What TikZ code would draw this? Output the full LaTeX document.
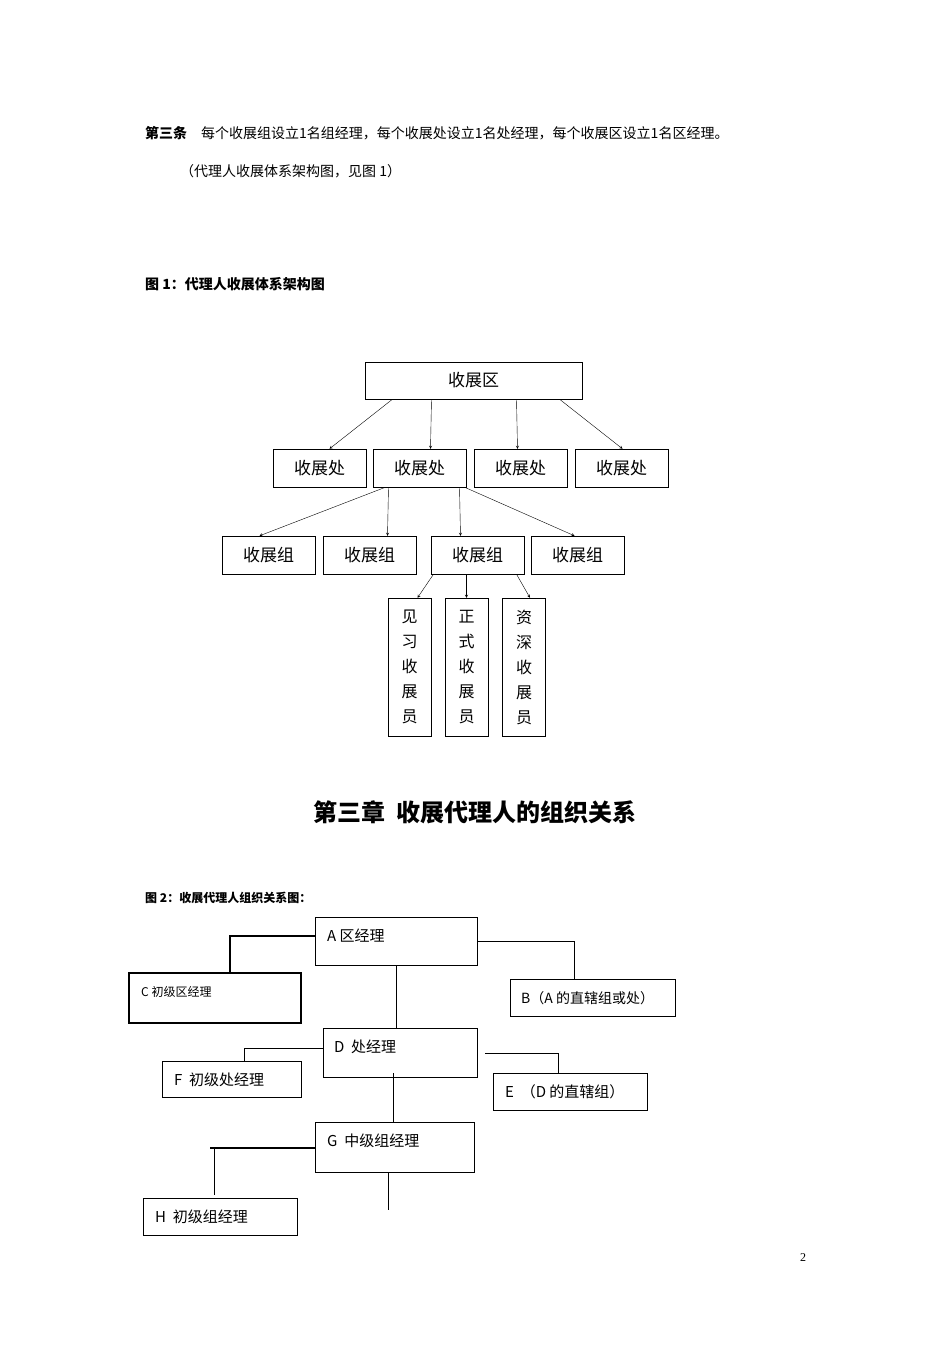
\documentclass[tikz,border=0pt]{standalone}
\usepackage{fontspec}
\setmainfont{Liberation Serif}
\newfontfamily\cjk{Noto Sans CJK SC}
\usetikzlibrary{positioning}
\tikzset{
    box/.style={ draw, thin, inner sep=0pt, font=\cjk\fontsize{17}{20}\selectfont },
    tall/.style={ box, minimum width=43pt, minimum height=138pt, align=center,
                  font=\cjk\fontsize{16}{25}\selectfont },
    sbox/.style={ draw, thin, inner sep=0pt },
    lbl/.style={ anchor=west, inner sep=0pt, font=\cjk\fontsize{15}{18}\selectfont },
    arr/.style={ ->, >=stealth, thin },
    link/.style={ thin },
    thk/.style={ line width=1.4pt }
}
\begin{document}
\begin{tikzpicture}[x=1pt,y=-1pt]
        \useasboundingbox (0,0) rectangle (950,1345);

        % text
        \node[anchor=west, inner sep=0pt, font=\cjk\fontsize{14}{16}\selectfont] (para) at (145,133)
            {{\bfseries 第三条}\quad 每个收展组设立1名组经理，每个收展处设立1名处经理，每个收展区设立1名区经理。};
        \node[anchor=west, inner sep=0pt, font=\cjk\fontsize{14}{16}\selectfont] (note) at (180,171)
            {（代理人收展体系架构图，见图 1）};
        \node[anchor=west, inner sep=0pt, font=\cjk\bfseries\fontsize{14}{16}\selectfont] (fig1) at (145,284)
            {图 1：代理人收展体系架构图};

        % figure 1
        \node[box, minimum width=217pt, minimum height=37pt] (qu) at (473.5,380.5) {收展区};
        \node[box, minimum width=93pt, minimum height=38pt] (c1) at (319.5,468) {收展处};
        \node[box, minimum width=93pt, minimum height=38pt] (c2) at (419.5,468) {收展处};
        \node[box, minimum width=93pt, minimum height=38pt] (c3) at (520.5,468) {收展处};
        \node[box, minimum width=93pt, minimum height=38pt] (c4) at (621.5,468) {收展处};
        \node[box, minimum width=93pt, minimum height=38pt] (g1) at (268.5,555) {收展组};
        \node[box, minimum width=93pt, minimum height=38pt] (g2) at (369.5,555) {收展组};
        \node[box, minimum width=93pt, minimum height=38pt] (g3) at (477.5,555) {收展组};
        \node[box, minimum width=93pt, minimum height=38pt] (g4) at (577.5,555) {收展组};
        \node[tall] (y1) at (409.5,667) {见\\习\\收\\展\\员};
        \node[tall] (y2) at (466.5,667) {正\\式\\收\\展\\员};
        \node[tall] (y3) at (524,667) {资\\深\\收\\展\\员};

        \draw[arr] ([xshift=-81pt]qu.south) -- ([xshift=10pt]c1.north);
        \draw[arr] ([xshift=-42pt]qu.south) -- ([xshift=11pt]c2.north);
        \draw[arr] ([xshift=43pt]qu.south) -- ([xshift=-3pt]c3.north);
        \draw[arr] ([xshift=86pt]qu.south) -- ([xshift=1pt]c4.north);
        \draw[arr] ([xshift=-34pt]c2.south) -- ([xshift=-9pt]g1.north);
        \draw[arr] ([xshift=-31pt]c2.south) -- ([xshift=18pt]g2.north);
        \draw[arr] ([xshift=40pt]c2.south) -- ([xshift=-17pt]g3.north);
        \draw[arr] ([xshift=45pt]c2.south) -- ([xshift=-3pt]g4.north);
        \draw[arr] ([xshift=-44pt]g3.south) -- ([xshift=8pt]y1.north);
        \draw[arr] ([xshift=-11pt]g3.south) -- (y2.north);
        \draw[arr] ([xshift=39pt]g3.south) -- ([xshift=6pt]y3.north);

        \node[inner sep=0pt, font=\cjk\bfseries\fontsize{24}{28}\selectfont] (chap) at (475,812)
            {第三章\ \ 收展代理人的组织关系};
        \node[anchor=west, inner sep=0pt, font=\cjk\bfseries\fontsize{12}{14}\selectfont] (fig2) at (145,898)
            {图 2：收展代理人组织关系图：};

        % figure 2
        \draw[sbox] (315,917) rectangle (477,965) node[pos=.5] (A) {};
        \draw[sbox, thk] (129,973) rectangle (301,1023) node[pos=.5] (C) {};
        \draw[sbox] (510,979) rectangle (675,1016) node[pos=.5] (B) {};
        \draw[sbox] (323,1028) rectangle (477,1077) node[pos=.5] (D) {};
        \draw[sbox] (162,1061) rectangle (301,1097) node[pos=.5] (F) {};
        \draw[sbox] (493,1073) rectangle (647,1110) node[pos=.5] (E) {};
        \draw[sbox] (315,1122) rectangle (474,1172) node[pos=.5] (G) {};
        \draw[sbox] (143,1198) rectangle (297,1235) node[pos=.5] (H) {};
        \draw[sbox] (129,973) rectangle (301,1023);

        \node[lbl] (tA) at (327,936) {A 区经理};
        \node[lbl, font=\cjk\fontsize{12}{14}\selectfont] (tC) at (141,992) {C 初级区经理};
        \node[lbl, font=\cjk\fontsize{14}{16}\selectfont] (tB) at (521,998) {B（A 的直辖组或处）};
        \node[lbl] (tD) at (334,1047) {D\ \ 处经理};
        \node[lbl] (tF) at (174,1080) {F\ \ 初级处经理};
        \node[lbl] (tE) at (505,1092) {E\ \ （D 的直辖组）};
        \node[lbl] (tG) at (327,1141) {G\ \ 中级组经理};
        \node[lbl] (tH) at (155,1217) {H\ \ 初级组经理};

        \coordinate (gend) at (388,1210);
        \draw[link, thk] (315,936) -| (230,973);
        \draw[link] (477,941) -| (574,979);
        \draw[link] (396,965) -- (396,1028);
        \draw[link] (323,1048) -| (244,1061);
        \draw[link] (485,1053) -| (558,1073);
        \draw[link] (393,1073) -- (393,1122);
        \draw[link, thk] (315,1148) -- (210,1148);
        \draw[link] (214,1148) -- (214,1195);
        \draw[link] (388,1172) -- (gend);

        \node[inner sep=0pt, font=\fontsize{12}{14}\selectfont] (page) at (803,1258) {2};
\end{tikzpicture}
\end{document}
